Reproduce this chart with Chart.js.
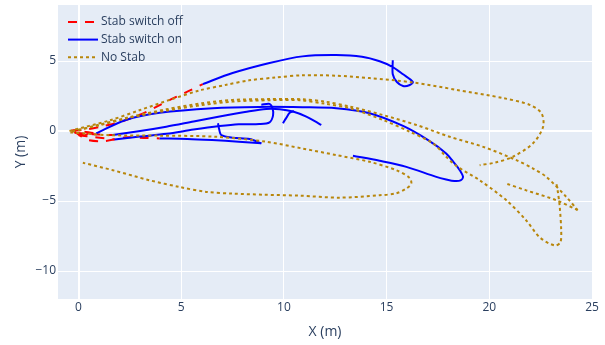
<!DOCTYPE html>
<html>
<head>
<meta charset="utf-8">
<script src="https://cdn.jsdelivr.net/npm/chart.js@4"></script>
<style>
  body { margin: 0; background: #fff; }
  canvas { display: block; }
</style>
</head>
<body>
<canvas id="traj" width="605" height="345"></canvas>
<script>
// axis ticks
const xTicks = [0, 5, 10, 15, 20, 25];
const yTicks = [-10, -5, 0, 5];

// Stab switch off (red dashed) - [x, y] in metres
const offA = [[-0.3, 0.02], [0.4, 0.12], [1.2, 0.35], [2.15, 0.7], [3.2, 1.3], [4.0, 1.88], [4.7, 2.4], [5.35, 2.85], [6.05, 3.35]];
const offB = [[-0.2, -0.05], [0.15, -0.4], [0.5, -0.65], [1.3, -0.72], [2.3, -0.45], [3.3, -0.5], [3.95, -0.53]];
const offC = [[-0.35, 0.0], [-0.1, 0.08], [0.2, 0.02], [0.45, -0.15], [0.3, -0.3], [0.0, -0.2], [0.2, -0.05], [0.6, -0.12], [0.86, -0.17]];
const offD = [[-0.2, -0.1], [0.4, -0.2], [1.0, -0.25], [1.67, -0.29]];
const offE = [[0.0, -0.3], [0.8, -0.45], [1.75, -0.6]];

// Stab switch on (blue solid)
const onA = [[6.05, 3.35], [7.5, 4.14], [9.3, 4.86], [10.9, 5.33], [12.55, 5.42], [13.8, 5.3], [14.66, 4.98], [15.3, 4.57], [15.8, 4.05], [16.28, 3.5], [16.1, 3.27], [15.8, 3.22], [15.5, 3.5], [15.3, 4.05], [15.3, 5.05]];
const onB = [[0.86, -0.17], [2.3, 0.79], [3.95, 1.3], [6.54, 1.63], [8.8, 1.72], [10.9, 1.7], [12.55, 1.63], [14.17, 1.27], [15.8, 0.36], [17.02, -0.65], [17.9, -1.6], [18.31, -2.32], [18.56, -2.8], [18.72, -3.28], [18.6, -3.53], [18.3, -3.57], [17.9, -3.46], [17.42, -3.28], [15.96, -2.56], [14.66, -2.13], [13.36, -1.77]];
const onC = [[1.67, -0.29], [3.0, 0.0], [4.27, 0.31], [5.6, 0.68], [6.87, 1.03], [8.1, 1.35], [9.14, 1.58], [9.8, 1.56], [10.44, 1.39], [11.09, 1.03], [11.5, 0.7], [11.82, 0.43]];
const onD = [[9.95, 0.55], [10.1, 0.9], [10.28, 1.3], [10.5, 1.42]];
const onE = [[1.75, -0.6], [3.0, -0.4], [4.3, -0.2], [5.6, 0.1], [6.87, 0.35], [7.8, 0.48], [8.8, 0.5], [9.3, 0.62], [9.47, 1.1], [9.45, 1.6], [9.3, 1.94], [8.9, 1.87]];
const onF = [[3.95, -0.53], [5.3, -0.57], [6.5, -0.65], [7.8, -0.76], [8.9, -0.88]];
const onG = [[8.9, -0.88], [8.33, -0.57], [7.52, -0.48], [6.95, -0.3], [6.85, 0.1], [6.79, 0.55]];

// No Stab (gold dotted)
const nsA = [[-0.44, 0.0], [1.5, 0.75], [3.0, 1.5], [4.5, 2.25], [5.9, 2.9], [7.2, 3.3], [8.3, 3.62], [9.6, 3.82], [10.9, 3.98], [12.55, 3.95], [14.17, 3.78], [16.28, 3.47], [18.4, 2.94], [20.67, 2.35], [21.97, 1.87], [22.54, 1.27], [22.62, 0.31], [22.13, -0.88], [21.15, -1.84], [20.3, -2.25], [19.53, -2.44]];
const nsB = [[-0.3, -0.05], [1.0, 0.45], [2.5, 1.0], [4.27, 1.55], [6.0, 1.98], [7.52, 2.22], [9.3, 2.28], [10.9, 2.27], [12.0, 2.1], [13.2, 1.75], [14.8, 1.15], [16.45, 0.43], [18.07, -0.41], [19.7, -1.13], [21.32, -2.08], [22.13, -2.68], [22.78, -3.28], [23.75, -4.71], [24.3, -5.65]];
const nsC = [[24.3, -5.65], [23.27, -4.95], [21.8, -4.24], [20.83, -3.76]];
const nsD = [[-0.3, 0.0], [1.0, 0.4], [2.5, 0.95], [4.27, 1.45], [6.0, 1.85], [7.5, 2.1], [9.3, 2.2], [10.76, 2.2], [12.0, 1.95], [13.2, 1.63], [14.82, 0.79], [16.12, -0.05], [17.26, -0.88], [17.9, -1.84], [18.4, -2.5], [19.53, -3.52], [20.83, -4.95], [21.8, -6.39], [22.45, -7.59], [23.18, -8.18], [23.46, -7.95], [23.5, -7.1], [23.43, -5.43], [23.35, -4.47], [23.27, -3.8]];
const nsE = [[-0.4, -0.1], [0.5, -0.2], [1.5, -0.3], [3.95, -0.33], [6.7, -0.41], [9.14, -0.77], [10.9, -1.25], [12.55, -1.72], [14.17, -2.2], [15.47, -2.8], [16.12, -3.35], [16.2, -3.76], [15.96, -4.11], [15.47, -4.45], [14.66, -4.59], [12.71, -4.76], [10.76, -4.62], [9.0, -4.55], [7.52, -4.47], [6.22, -4.35], [4.92, -4.0], [3.46, -3.52], [1.67, -2.8], [0.21, -2.27]];

const groups = [
    { label: 'Stab switch off', runs: [offA, offB, offC, offD, offE], color: '#ff0000', dash: [9, 8], order: 2 },
    { label: 'Stab switch on', runs: [onA, onB, onC, onD, onE, onF, onG], color: '#0000ff', dash: [], order: 1 },
    { label: 'No Stab', runs: [nsA, nsB, nsC, nsD, nsE], color: '#b8860b', dash: [3, 3], order: 0 }
];

const datasets = [];
groups.forEach(g => {
    g.runs.forEach(run => {
        datasets.push({
            label: g.label,
            data: run.map(p => ({ x: p[0], y: p[1] })),
            showLine: true,
            pointRadius: 0,
            borderColor: g.color,
            borderWidth: 2,
            borderDash: g.dash,
            tension: 0.3,
            fill: false,
            order: g.order
        });
    });
});

const textColor = '#2a3f5f';
Chart.defaults.font.family = '"Open Sans", verdana, arial, sans-serif';
Chart.defaults.color = textColor;

const plotBg = {
    id: 'plotBg',
    beforeDraw(chart) {
        const a = chart.chartArea, c = chart.ctx;
        c.save();
        c.fillStyle = '#e5ecf6';
        c.fillRect(a.left, a.top, a.right - a.left, a.bottom - a.top);
        c.restore();
    }
};

// plotly-like legend in the upper left of the plot
const innerLegend = {
    id: 'innerLegend',
    afterDraw(chart) {
        const c = chart.ctx;
        c.save();
        c.font = '12px "Open Sans", verdana, arial, sans-serif';
        c.textBaseline = 'middle';
        groups.forEach((g, i) => {
            const y = 22 + i * 17.6;
            c.strokeStyle = g.color;
            c.lineWidth = 2;
            c.setLineDash(g.dash);
            c.beginPath();
            c.moveTo(68, y);
            c.lineTo(98, y);
            c.stroke();
            c.setLineDash([]);
            c.fillStyle = textColor;
            c.fillText(g.label, 101, y);
        });
        c.restore();
    }
};

const gridColor = ctx => '#ffffff';
const gridWidth = ctx => (ctx.tick && ctx.tick.value === 0 ? 2 : 1);
const minus = v => (v < 0 ? '\u2212' + Math.abs(v) : String(v));

new Chart(document.getElementById('traj'), {
    type: 'scatter',
    data: { datasets: datasets },
    options: {
        responsive: false,
        animation: false,
        layout: { padding: { top: 5, right: 13, left: 0, bottom: 0 } },
        plugins: { legend: { display: false }, tooltip: { enabled: false } },
        scales: {
            x: {
                type: 'linear', min: -1, max: 25,
                afterBuildTicks: s => { s.ticks = xTicks.map(v => ({ value: v })); },
                afterFit: s => { s.height = 46; s.paddingLeft = 0; s.paddingRight = 0; },
                grid: { color: gridColor, lineWidth: gridWidth, drawTicks: false },
                border: { display: false },
                ticks: { padding: 1, font: { size: 12 }, callback: minus, maxRotation: 0 },
                title: { display: true, text: 'X (m)', font: { size: 14 }, padding: { top: 4, bottom: 5 } }
            },
            y: {
                type: 'linear', min: -12, max: 9,
                afterBuildTicks: s => { s.ticks = yTicks.map(v => ({ value: v })); },
                afterFit: s => { s.width = 58; s.paddingTop = 0; s.paddingBottom = 0; },
                grid: { color: gridColor, lineWidth: gridWidth, drawTicks: false },
                border: { display: false },
                ticks: { padding: 2, font: { size: 12 }, callback: minus },
                title: { display: true, text: 'Y (m)', font: { size: 14 }, padding: { top: 13, bottom: 4 } }
            }
        }
    },
    plugins: [plotBg, innerLegend]
});
</script>
</body>
</html>
